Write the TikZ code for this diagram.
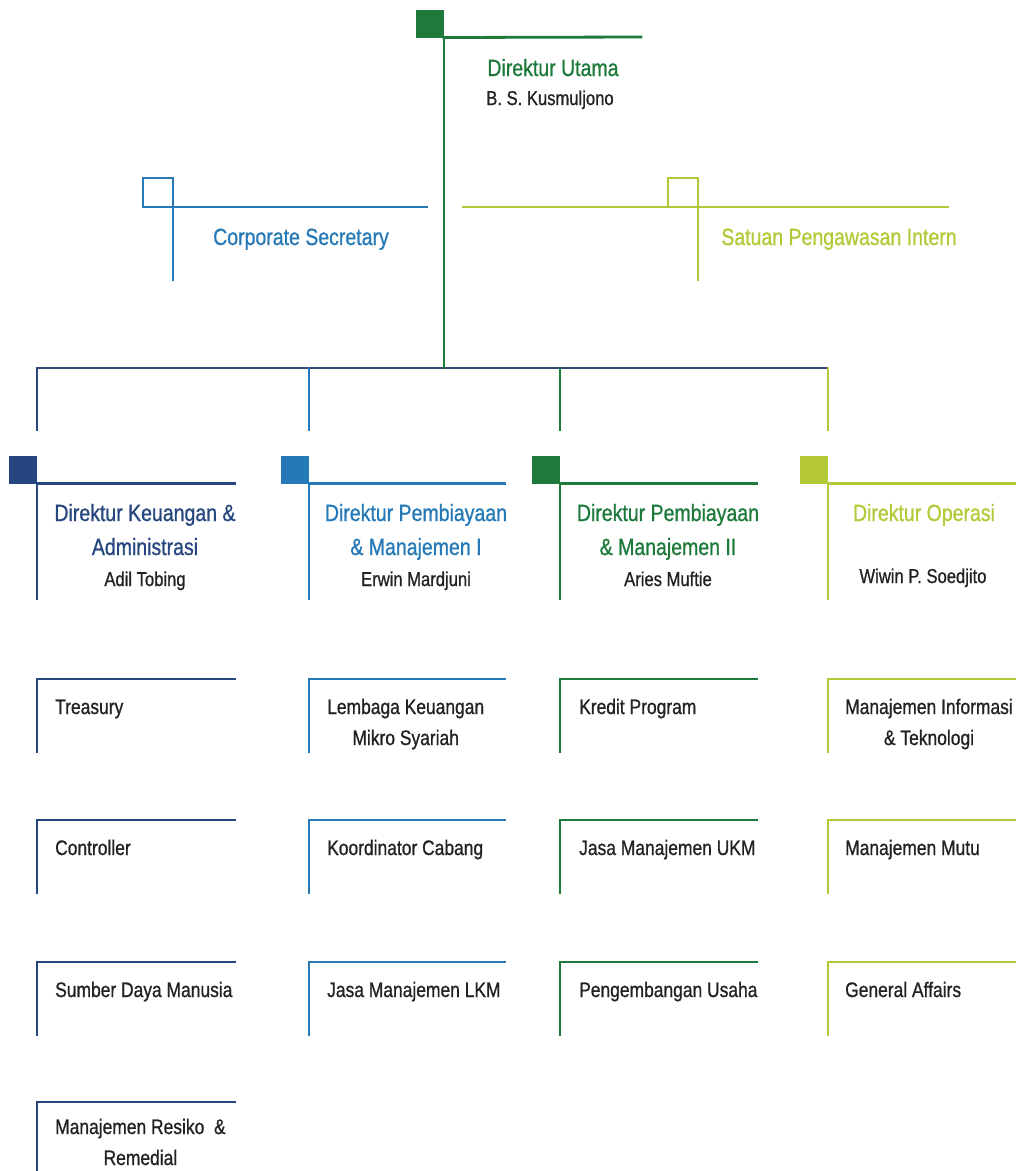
\documentclass[tikz,border=0pt]{standalone}
\usepackage{fontspec}
\setmainfont{Liberation Sans}[FakeStretch=0.83, FakeBold=0.8]
\usetikzlibrary{positioning}
\definecolor{navy}{HTML}{25467F}
\definecolor{sky}{HTML}{2479B6}
\definecolor{forest}{HTML}{1D7A3A}
\definecolor{lime}{HTML}{B4C838}
\definecolor{bus}{HTML}{34497A}
\definecolor{ink}{HTML}{222222}
\tikzset{%
    bar/.style={line width=2.8pt, line cap=rect},
    box/.style={fill=#1, minimum size=28pt, inner sep=0pt, outer sep=0pt},
    openbox/.style={%
        draw=#1,
        line width=2.4pt,
        minimum width=30pt,
        minimum height=29pt,
        inner sep=0pt,
        outer sep=0pt,
    },
    head/.style={font=\fontsize{23.5}{34}\selectfont, inner sep=0pt, align=center},
    person/.style={font=\fontsize{20}{24}\selectfont, text=ink, inner sep=0pt},
    unit/.style={font=\fontsize{21}{31}\selectfont, text=ink, inner sep=0pt, align=center},
}
\begin{document}
\begin{tikzpicture}[x=1pt, y=-1pt]

    \useasboundingbox[fill=white] (0,0) rectangle (1016,1171);

    %%%%%%%%%%%%%%%%%%
    % Direktur Utama %
    %%%%%%%%%%%%%%%%%%
    \node[box=forest] (sq-top) at (430,23.5) {};
    \coordinate (top-end) at (641,37);
    \draw[bar, forest] (sq-top.south east) -- (top-end);
    \node[head, text=forest, anchor=base] (dirut) at (553,76) {Direktur Utama};
    \node[person, anchor=base] (dirut-name) at (550,105) {B. S. Kusmuljono};

    % Bus
    \coordinate (bus-w) at (37,368);
    \coordinate (bus-e) at (828,368);
    \draw[bar, bus] (bus-w) -- (bus-e);
    \draw[bar, forest] (sq-top.south east) -- (sq-top.south east |- bus-w);

    %%%%%%%%%
    % Staff %
    %%%%%%%%%
    \node[openbox=sky] (sq-cs) at (158,192.5) {};
    \coordinate (cs-end) at (427,207);
    \draw[bar, sky] (sq-cs.south west) -- (cs-end);
    \draw[bar, sky] (sq-cs.north east) -- ++(0,102);
    \node[head, text=sky, anchor=base] (corsec) at (301,245) {Corporate Secretary};

    \node[openbox=lime] (sq-spi) at (683,192.5) {};
    \coordinate (spi-start) at (463,207);
    \coordinate (spi-end) at (948,207);
    \draw[bar, lime] (spi-start) -- (spi-end);
    \draw[bar, lime] (sq-spi.north east) -- ++(0,102);
    \node[head, text=lime, anchor=base] (spi) at (839,245) {Satuan Pengawasan Intern};

    %%%%%%%%%%%%%
    % Directors %
    %%%%%%%%%%%%%
    \foreach \id/\x/\colour/\len in {%
        keu/37/navy/198, pb1/309/sky/196, pb2/560/forest/197, ops/828/lime/190%
    }{%
        \coordinate (drop-\id) at (\x,430);
        \draw[bar, \colour] (drop-\id |- bus-w) -- (drop-\id);
        \node[box=\colour] (sq-\id) at ({\x-14},469.5) {};
        \draw[bar, \colour] (sq-\id.south east) -- ++(\len,0);
        \draw[bar, \colour] (sq-\id.south east) -- ++(0,115);
    };

    % base of a two-line node is its last line
    \node[head, text=navy, anchor=base] (dir-keu) at (145,555)
        {Direktur Keuangan \&\\Administrasi};
    \node[person, anchor=base] (dir-keu-name) at (145,586) {Adil Tobing};
    \node[head, text=sky, anchor=base] (dir-pb1) at (416,555)
        {Direktur Pembiayaan\\\& Manajemen I};
    \node[person, anchor=base] (dir-pb1-name) at (416,586) {Erwin Mardjuni};
    \node[head, text=forest, anchor=base] (dir-pb2) at (668,555)
        {Direktur Pembiayaan\\\& Manajemen II};
    \node[person, anchor=base] (dir-pb2-name) at (668,586) {Aries Muftie};
    \node[head, text=lime, anchor=base] (dir-ops) at (924,521) {Direktur Operasi};
    \node[person, anchor=base] (dir-ops-name) at (923,583) {Wiwin P. Soedjito};

    %%%%%%%%%
    % Units %
    %%%%%%%%%
    \foreach \x/\colour/\len in {%
        37/navy/198, 309/sky/196, 560/forest/197, 828/lime/190%
    }{%
        \foreach \y in {679, 820, 962}{%
            \draw[bar, \colour] ({\x+\len},\y) -- (\x,\y) -- (\x,{\y+73});
        };
    };
    \draw[bar, navy] (235,1102) -- (37,1102) -- (37,1180);

    \node[unit, anchor=base west] (treasury) at (55,714) {Treasury};
    \node[unit, anchor=base west] (controller) at (55,855) {Controller};
    \node[unit, anchor=base west] (sdm) at (55,997) {Sumber Daya Manusia};
    \node[unit, anchor=base west] (resiko) at (55,1165)
        {Manajemen Resiko \ \&\\Remedial};

    \node[unit, anchor=base west] (lkms) at (327,745)
        {Lembaga Keuangan\\Mikro Syariah};
    \node[unit, anchor=base west] (cabang) at (327,855) {Koordinator Cabang};
    \node[unit, anchor=base west] (lkm) at (327,997) {Jasa Manajemen LKM};

    \node[unit, anchor=base west] (kredit) at (579,714) {Kredit Program};
    \node[unit, anchor=base west] (ukm) at (579,855) {Jasa Manajemen UKM};
    \node[unit, anchor=base west] (usaha) at (579,997) {Pengembangan Usaha};

    \node[unit, anchor=base west] (mit) at (845,745)
        {Manajemen Informasi\\\& Teknologi};
    \node[unit, anchor=base west] (mutu) at (845,855) {Manajemen Mutu};
    \node[unit, anchor=base west] (ga) at (845,997) {General Affairs};

\end{tikzpicture}
\end{document}
